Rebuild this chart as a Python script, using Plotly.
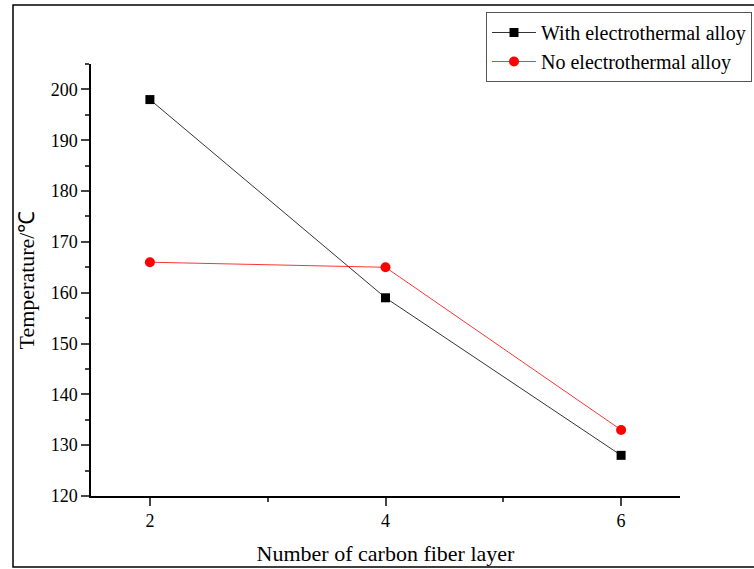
import plotly.graph_objects as go

layers = [2, 4, 6]
with_alloy = [198, 159, 128]
no_alloy = [166, 165, 133]
y_ticks = [120, 130, 140, 150, 160, 170, 180, 190, 200]
x_ticks = [2, 4, 6]

FONT = "Liberation Serif"

fig = go.Figure()
fig.add_trace(go.Scatter(
    x=layers, y=with_alloy, mode="lines+markers", name="With electrothermal alloy",
    line=dict(color="black", width=0.8),
    marker=dict(symbol="square", size=9, color="black"),
))
fig.add_trace(go.Scatter(
    x=layers, y=no_alloy, mode="lines+markers", name="No electrothermal alloy",
    line=dict(color="red", width=0.8),
    marker=dict(symbol="circle", size=10, color="red"),
))

L, R, T, B = 91, 74, 64, 73
W, H = 754, 569
pw, ph = W - L - R, H - T - B

def px(x):
    return (x - L) / pw

def py(y):
    return (H - B - y) / ph

fig.update_layout(
    width=W, height=H,
    margin=dict(l=L, r=R, t=T, b=B, autoexpand=False),
    paper_bgcolor="white", plot_bgcolor="white",
    font=dict(family=FONT, color="black", size=18),
    showlegend=True,
    legend=dict(
        x=px(486), y=py(12), xanchor="left", yanchor="top",
        bordercolor="#555555", borderwidth=1, bgcolor="white",
        font=dict(family=FONT, size=20, color="black"),
        itemwidth=44, tracegroupgap=0,
    ),
    xaxis=dict(
        range=[1.5, 6.5], tickvals=x_ticks, ticks="outside", ticklen=8, tickwidth=1.5,
        showline=True, linecolor="black", linewidth=1.5, showgrid=False, zeroline=False,
        tickfont=dict(size=18),
        minor=dict(dtick=1, ticks="outside", ticklen=4, tickwidth=1.5, showgrid=False),
        title=dict(text="Number of carbon fiber layer", font=dict(size=22), standoff=15),
    ),
    yaxis=dict(
        range=[120, 205], tickvals=y_ticks, ticks="outside", ticklen=8, tickwidth=1.5,
        showline=True, linecolor="black", linewidth=1.5, showgrid=False, zeroline=False,
        tickfont=dict(size=18),
        minor=dict(dtick=5, tick0=120, ticks="outside", ticklen=4, tickwidth=1.5, showgrid=False),
        title=dict(text="Temperature/℃", font=dict(size=22), standoff=10),
    ),
)

# outer frame
fig.add_shape(type="rect", xref="paper", yref="paper",
              x0=px(13), x1=px(770), y0=py(567), y1=py(5),
              line=dict(color="black", width=1.5), fillcolor="rgba(0,0,0,0)", layer="below")

fig.write_html("out.html")
